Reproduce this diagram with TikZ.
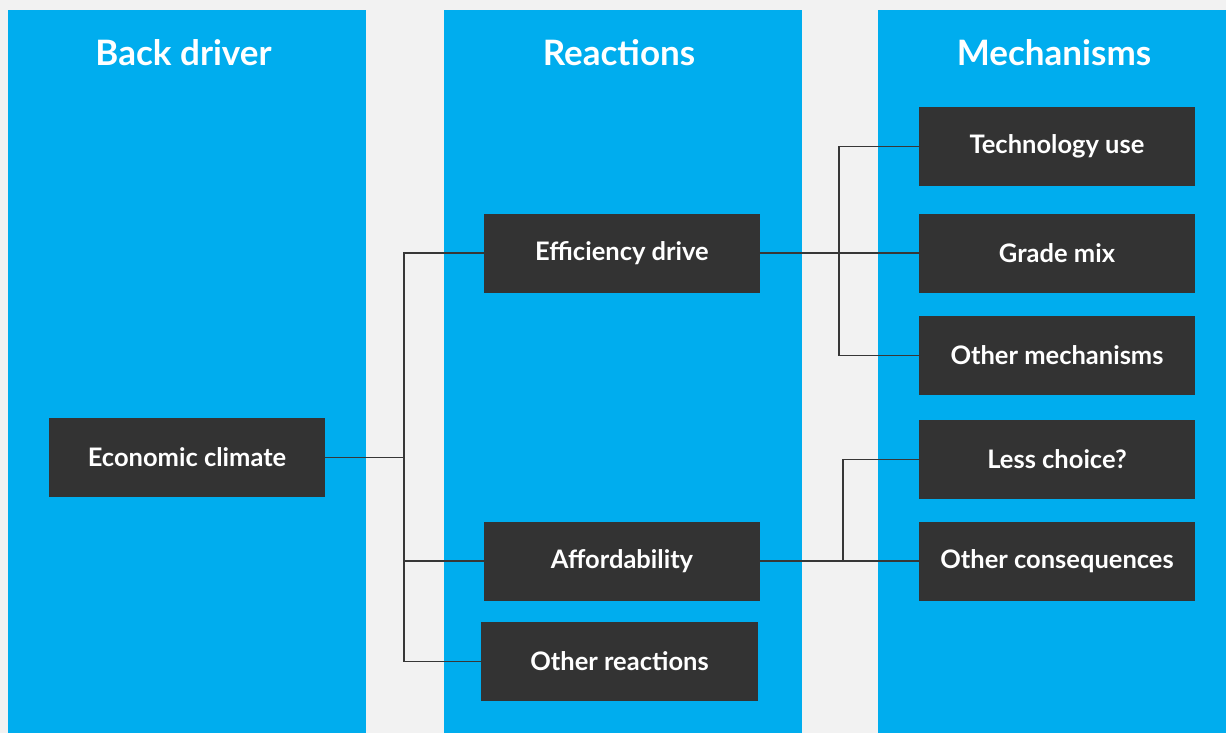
\documentclass[tikz,border=0pt]{standalone}
\usepackage{fontspec}
\setmainfont{Lato}
\usepackage{tikz}
\usetikzlibrary{positioning,calc}
\definecolor{pagegrey}{RGB}{242,242,242}
\definecolor{columnblue}{RGB}{0,173,238}
\definecolor{boxdark}{RGB}{51,51,51}
\definecolor{linkdark}{RGB}{55,55,55}
\tikzset{
  base/.style={font=\bfseries\fontsize{25.5}{30}\selectfont, align=center, inner sep=0pt, text=white},
  col/.style={rectangle, fill=columnblue, draw=none, minimum width=358pt, minimum height=723pt, inner sep=0pt},
  head/.style={base, font=\bfseries\fontsize{35}{40}\selectfont, anchor=base},
  box/.style={base, rectangle, fill=boxdark, draw=none, minimum width=276pt, minimum height=79pt},
  link/.style={line width=1.8pt, draw=linkdark},
}

\begin{document}
\begin{tikzpicture}[x=1pt,y=-1pt]
  \fill[pagegrey] (0,0) rectangle (1226,733);
  \useasboundingbox (0,0) rectangle (1226,733);
  % columns
  \node[col] (colback) at (187,371.5) {};
  \node[col] (colreact) at (623,371.5) {};
  \node[col,minimum width=350pt] (colmech) at (1053,371.5) {};
  \node[head] (hback) at (183.5,66) {Back driver};
  \node[head] (hreact) at (619,66) {Reactions};
  \node[head] (hmech) at (1054,66) {Mechanisms};
  % boxes
  \node[box] (econ) at (187,457.5) {Economic climate};
  \node[box] (effic) at (622,253) {Efficiency drive};
  \node[box] (afford) at (622,561) {Affordability};
  \node[box,minimum width=277pt] (othreact) at (619.5,661.5) {Other reactions};
  \node[box] (tech) at (1057,146.5) {Technology use};
  \node[box] (grade) at (1057,253) {Grade mix};
  \node[box] (othmech) at (1057,355.5) {Other mechanisms};
  \node[box] (lesschoice) at (1057,459.5) {Less choice?};
  \node[box] (othcons) at (1057,561) {Other consequences};
  % connectors
  \coordinate (busA) at (404,0);
  \coordinate (busB) at (839,0);
  \coordinate (busC) at (843,0);
  \draw[link] (econ.east) -- (econ.east -| busA);
  \foreach \n in {effic,afford,othreact}{\draw[link] (\n.west) -| (busA |- econ.east);}
  \draw[link] (effic.east) -- (grade.west);
  \foreach \n in {tech,othmech}{\draw[link] (\n.west) -| (busB |- effic.east);}
  \draw[link] (afford.east) -- (othcons.west);
  \draw[link] (lesschoice.west) -| (busC |- afford.east);
\end{tikzpicture}
\end{document}
